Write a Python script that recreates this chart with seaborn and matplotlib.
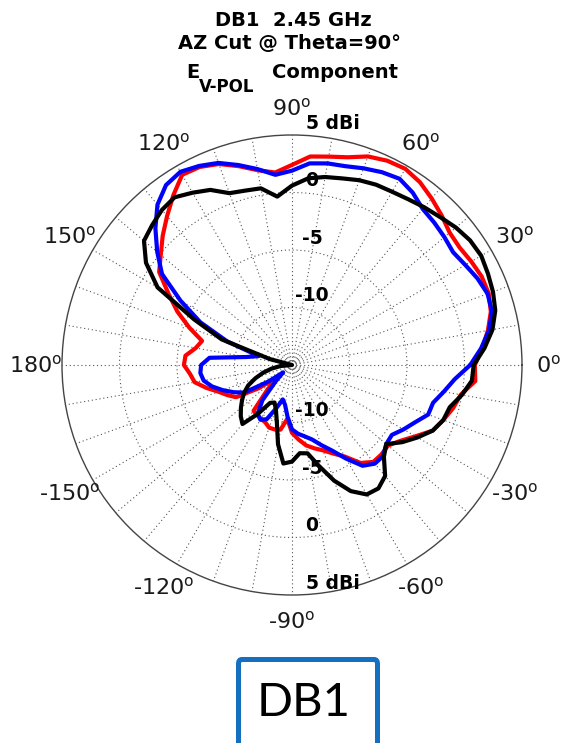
import matplotlib
matplotlib.use("Agg")
import numpy as np
import pandas as pd
import matplotlib.pyplot as plt
import seaborn as sns
from matplotlib.patches import FancyBboxPatch

# gain, dBi, one value every 5 degrees from 0
angles = list(range(0, 360, 5))
red_db = [0.9, 1.6, 2.3, 2.9, 3.2, 3.2, 3.0, 2.8, 2.9, 3.4, 3.9, 4.4,
          4.7, 4.6, 4.3, 3.7, 3.4, 3.2, 2.4, 1.8, 2.2, 2.9, 3.6, 4.0,
          4.1, 3.0, 1.9, 0.9, -0.1, -0.9, -2.6, -4.0, -5.5, -6.9, -6.5, -5.7,
          -5.6, -6.1, -6.4, -7.3, -8.2, -8.8, -9.4, -11.5, -13.5, -12.0, -9.8, -9.7,
          -9.6, -9.5, -9.2, -9.2, -9.3, -10.3, -9.1, -8.5, -7.9, -7.5, -7.1, -6.5,
          -5.8, -4.6, -4.0, -4.0, -4.1, -3.5, -2.6, -1.5, -1.0, -0.5, -0.1, 1.0]
blue_db = [0.5, 1.5, 2.4, 3.0, 3.1, 2.8, 2.4, 2.1, 2.3, 2.5, 2.7, 3.3,
           3.7, 3.5, 3.2, 2.9, 2.8, 2.6, 1.9, 1.6, 2.3, 3.0, 3.7, 4.1,
           4.4, 4.1, 3.2, 1.8, 0.3, -1.2, -3.8, -6.2, -9.0, -12.0, -11.0, -7.8,
           -7.1, -7.0, -7.2, -7.8, -8.6, -9.4, -10.2, -12.5, -14.0, -13.0, -11.0, -9.8,
           -9.5, -9.8, -11.0, -11.9, -11.5, -10.5, -9.4, -9.0, -8.7, -8.3, -7.6, -6.8,
           -5.6, -4.3, -3.8, -3.8, -4.3, -4.4, -3.8, -3.2, -2.4, -2.3, -1.6, -0.8]
black_db = [0.8, 1.8, 2.7, 3.3, 3.6, 3.8, 4.0, 3.9, 3.6, 3.2, 2.9, 2.6,
            2.4, 2.3, 2.1, 1.8, 1.6, 1.3, 0.6, -0.3, 0.6, 0.7, 0.9, 1.8,
            2.3, 2.8, 2.6, 2.2, 1.8, 0.5, -1.5, -5.6, -8.5, -13.0, -15.0, -15.0,
            -15.0, -14.0, -13.2, -12.4, -11.6, -10.8, -10.2, -9.7, -9.2, -8.7, -8.3, -9.8,
            -11.2, -11.4, -10.9, -9.9, -8.0, -6.4, -6.6, -7.3, -7.2, -5.9, -4.3, -2.9,
            -2.0, -1.9, -2.4, -3.7, -4.3, -3.3, -2.4, -1.5, -1.0, -0.8, 0.0, 0.7]

ring_values = [-10, -5, 0, 5]
ring_labels = ["-10", "-5", "0", "5 dBi"]
angle_ticks = [0, 30, 60, 90, 120, 150, 180, 210, 240, 270, 300, 330]
angle_labels = ["0", "30", "60", "90", "120", "150", "180",
                "-150", "-120", "-90", "-60", "-30"]

sns.set_style("white")
plt.rcParams["font.family"] = ["DejaVu Sans"]
plt.rcParams["mathtext.fontset"] = "dejavusans"
plt.rcParams["text.color"] = "black"

rows = []
for name, vals in [("red", red_db), ("blue", blue_db), ("black", black_db)]:
    for a, v in zip(angles + [360], vals + [vals[0]]):
        rows.append({"theta": np.deg2rad(a), "gain": max(v, -15), "trace": name})
df = pd.DataFrame(rows)

fig = plt.figure(figsize=(5.64, 7.43), dpi=100)
ax = fig.add_axes([62 / 564, 148 / 743, 460 / 564, 460 / 743], projection="polar")

sns.lineplot(data=df, x="theta", y="gain", hue="trace",
             hue_order=["red", "blue", "black"],
             palette={"red": "#ff0000", "blue": "#0000ff", "black": "#000000"},
             sort=False, estimator=None, lw=3, legend=False, ax=ax, zorder=4)

ax.set_ylim(-15, 5)
ax.set_xticks(np.deg2rad(np.arange(0, 360, 10)))
ax.set_xticklabels([])
ax.set_yticks([-10, -5, 0])
ax.set_yticklabels([])
ax.set_xlabel("")
ax.set_ylabel("")
ax.grid(True, color="#555555", ls=(0, (1, 2.5)), lw=0.8)
ax.spines["polar"].set_color("#444444")
ax.spines["polar"].set_linewidth(1.0)

# angle labels, MATLAB style with a superscript o
for t, lab in zip(angle_ticks, angle_labels):
    ax.text(np.deg2rad(t), 7.3, lab + r"$^{\mathrm{o}}$", ha="center", va="center",
            fontsize=16, color="#1a1a1a", clip_on=False)

# radial labels above and below the centre
for v, lab in zip(ring_values, ring_labels):
    for th in (np.pi / 2, 3 * np.pi / 2):
        if lab.endswith("dBi"):
            ax.annotate(lab, xy=(th, v), xytext=(10.1, 8.6), textcoords="offset points",
                        ha="left", va="center", fontsize=13.5, fontweight="bold", zorder=3)
        else:
            ax.annotate(lab, xy=(th, v), xytext=(14.4, 8.6), textcoords="offset points",
                        ha="center", va="center", fontsize=13.5, fontweight="bold", zorder=3)

# title block
W, H = 564, 743
fig.text(293 / W, 1 - 20 / H, "DB1  2.45 GHz", ha="center", va="center",
         fontsize=14, fontweight="bold")
fig.text(290 / W, 1 - 43 / H, "AZ Cut @ Theta=90°", ha="center", va="center",
         fontsize=14, fontweight="bold")
fig.text(193 / W, 1 - 72 / H, "E", ha="center", va="center", fontsize=14, fontweight="bold")
fig.text(199 / W, 1 - 87 / H, "V-POL", ha="left", va="center", fontsize=12, fontweight="bold")
fig.text(272 / W, 1 - 72 / H, "Component", ha="left", va="center", fontsize=14, fontweight="bold")

# boxed caption under the plot
box = FancyBboxPatch((238.5 / W, -0.05), (377.5 - 238.5) / W, (743 - 659.5) / H + 0.05,
                     boxstyle="round,pad=0,rounding_size=0.006", transform=fig.transFigure,
                     fc="none", ec="#1470be", lw=3.6)
fig.add_artist(box)
fig.text(304 / W, 1 - 703 / H, "DB1", ha="center", va="center", fontsize=34,
         family=["Lato", "DejaVu Sans"], fontweight="normal")

fig.savefig("out.png", dpi=100)
